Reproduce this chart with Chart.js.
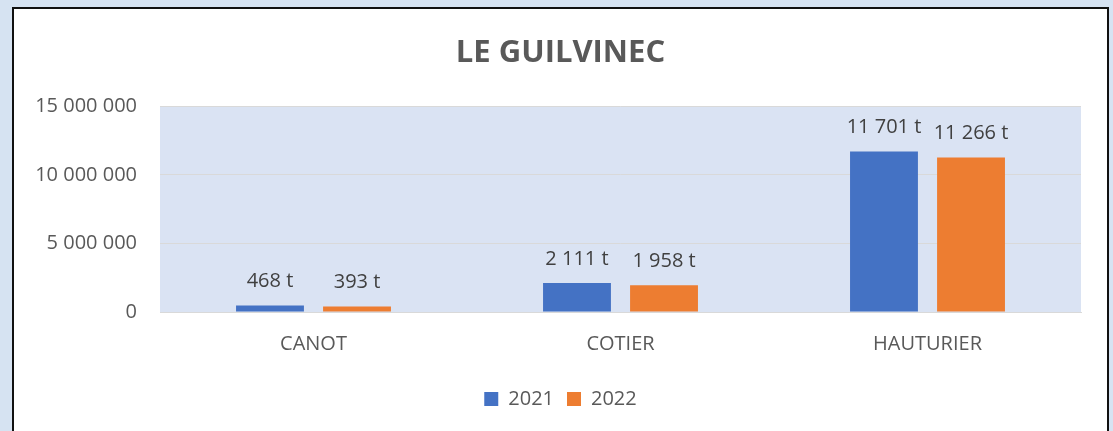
<!DOCTYPE html>
<html lang="fr">
<head>
    <meta charset="UTF-8">
    <title>Le Guilvinec</title>
    <script src="https://cdn.jsdelivr.net/npm/chart.js"></script>
    <style>
        body {
            margin: 0;
            background-color: #d6e3f2;
            overflow: hidden;
        }

        .cadre {
            position: absolute;
            left: 12px;
            top: 7px;
            width: 1093px;
            height: 440px;
            background: #fff;
            border: 2px solid #111;
        }

        .cadre canvas {
            display: block;
        }
    </style>
</head>
<body>
    <div class="cadre">
        <div style="position:relative;width:1093px;height:422px">
            <canvas id="graphe"></canvas>
        </div>
    </div>
    <script>
        // tonnages en kg (étiquettes affichées en tonnes)
        const categories = ['CANOT', 'COTIER', 'HAUTURIER'];
        const annees = ['2021', '2022'];
        const valeurs2021 = [468000, 2111000, 11701000];
        const valeurs2022 = [393000, 1958000, 11266000];
        const ticksY = [0, 5000000, 10000000, 15000000];

        const gris = '#595959';
        const police = "'Open Sans', 'Noto Sans', sans-serif";

        function espaces(n) {
            return String(n).replace(/\B(?=(\d{3})+(?!\d))/g, ' ');
        }

        // fond bleu de la zone de tracé
        const fondZone = {
            id: 'fondZone',
            beforeDraw(chart) {
                const a = chart.chartArea;
                const ctx = chart.ctx;
                ctx.save();
                ctx.fillStyle = '#dae3f3';
                ctx.fillRect(a.left, a.top, a.right - a.left, a.bottom - a.top);
                ctx.restore();
            }
        };

        // étiquettes "xxx t" au-dessus des barres
        const etiquettes = {
            id: 'etiquettes',
            afterDatasetsDraw(chart) {
                const ctx = chart.ctx;
                ctx.save();
                ctx.font = '20px ' + police;
                ctx.fillStyle = '#404040';
                ctx.textAlign = 'center';
                ctx.textBaseline = 'middle';
                chart.data.datasets.forEach((ds, i) => {
                    chart.getDatasetMeta(i).data.forEach((barre, j) => {
                        const txt = espaces(Math.round(ds.data[j] / 1000)) + ' t';
                        ctx.fillText(txt, barre.x, barre.y - 24);
                    });
                });
                ctx.restore();
            }
        };

        new Chart(document.getElementById('graphe'), {
            type: 'bar',
            data: {
                labels: categories,
                datasets: [{
                    label: annees[0],
                    data: valeurs2021,
                    backgroundColor: '#4472c4',
                    categoryPercentage: 0.567,
                    barPercentage: 0.78
                }, {
                    label: annees[1],
                    data: valeurs2022,
                    backgroundColor: '#ed7d31',
                    categoryPercentage: 0.567,
                    barPercentage: 0.78
                }]
            },
            options: {
                responsive: true,
                maintainAspectRatio: false,
                animation: false,
                layout: {
                    padding: { left: 0, right: 0, top: 0, bottom: 12 }
                },
                plugins: {
                    title: {
                        display: true,
                        text: 'LE GUILVINEC',
                        color: gris,
                        font: { family: police, size: 31, weight: 'bold' },
                        padding: { top: 26, bottom: 34 }
                    },
                    legend: {
                        position: 'bottom',
                        labels: {
                            color: gris,
                            font: { family: police, size: 20 },
                            boxWidth: 14,
                            boxHeight: 14,
                            padding: 13
                        }
                    },
                    tooltip: { enabled: false }
                },
                scales: {
                    x: {
                        grid: { display: false, drawTicks: false },
                        border: { color: '#d9d9d9' },
                        ticks: {
                            color: gris,
                            padding: 20,
                            font: { family: police, size: 20 }
                        }
                    },
                    y: {
                        min: 0,
                        max: 15000000,
                        afterFit(axe) { axe.width = 146; },
                        afterBuildTicks(axe) { axe.ticks = ticksY.map(v => ({ value: v })); },
                        grid: { color: '#d9d9d9', drawTicks: false },
                        border: { display: false },
                        ticks: {
                            color: gris,
                            padding: 23,
                            font: { family: police, size: 20 },
                            callback: v => espaces(v)
                        }
                    },
                    // marge vide à droite de la zone de tracé
                    marge: {
                        type: 'linear',
                        position: 'right',
                        afterFit(axe) { axe.width = 26; },
                        grid: { display: false, drawTicks: false },
                        border: { display: false },
                        ticks: { display: false }
                    }
                }
            },
            plugins: [fondZone, etiquettes]
        });
    </script>
</body>
</html>
